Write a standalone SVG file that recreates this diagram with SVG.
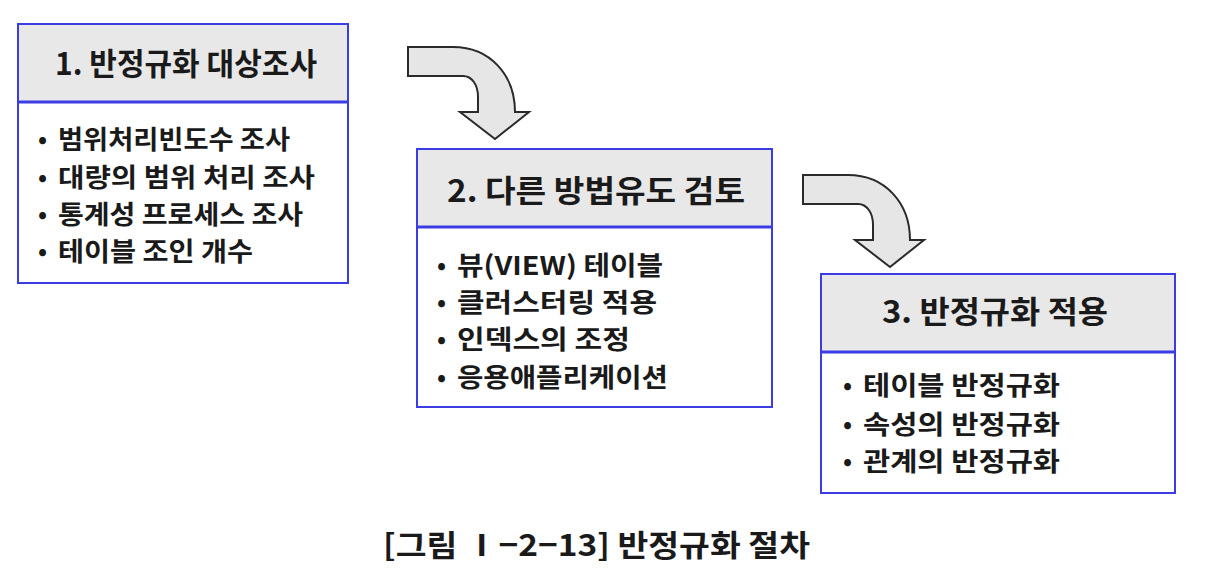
<svg xmlns="http://www.w3.org/2000/svg" width="1206" height="582" viewBox="0 0 1206 582">
<defs>
<style>
.box{fill:#fff;stroke:#3c3ce6;stroke-width:2}
.hdr{fill:#e8e8e8}
.div{stroke:#3c3ce6;stroke-width:3}
.arrow{fill:#e6e6e6;stroke:#2a2a2a;stroke-width:2;stroke-linejoin:miter}
text{font-family:"Noto Sans CJK KR","Noto Sans",sans-serif;fill:#1a1a1a;font-weight:bold}
.h{font-size:31px}
.t{font-size:26px}
.b{font-size:24px}
.cap{font-size:30px}
</style>
<path id="arw" class="arrow" d="M0,0 L45,0 C82,0 107,28 107,65 L121,65 L87,92 L52,65 L70,65 L70,50 C70,38 64,29 55,29 L0,29 Z"/>
</defs>
<rect width="1206" height="582" fill="#fff"/>

<g id="connectors">
<use href="#arw" transform="translate(408,47)"/>
<use href="#arw" transform="translate(803,175)"/>
</g>

<g id="node1">
<rect class="box" x="18" y="24" width="330" height="259"/>
<rect class="hdr" x="19" y="25" width="328" height="77"/>
<line class="div" x1="18" y1="102" x2="348" y2="102"/>
<text class="h" x="55" y="75" textLength="262" lengthAdjust="spacingAndGlyphs">1. 반정규화 대상조사</text>
<text class="b" x="38" y="148">•</text><text class="t" x="58" y="149" textLength="232" lengthAdjust="spacingAndGlyphs">범위처리빈도수 조사</text>
<text class="b" x="38" y="186">•</text><text class="t" x="58" y="187" textLength="257" lengthAdjust="spacingAndGlyphs">대량의 범위 처리 조사</text>
<text class="b" x="38" y="223">•</text><text class="t" x="58" y="224" textLength="245" lengthAdjust="spacingAndGlyphs">통계성 프로세스 조사</text>
<text class="b" x="38" y="260">•</text><text class="t" x="58" y="261" textLength="195" lengthAdjust="spacingAndGlyphs">테이블 조인 개수</text>
</g>

<g id="node2">
<rect class="box" x="417" y="149" width="355" height="258"/>
<rect class="hdr" x="418" y="150" width="353" height="77"/>
<line class="div" x1="417" y1="227" x2="772" y2="227"/>
<text class="h" x="447" y="202" textLength="298" lengthAdjust="spacingAndGlyphs">2. 다른 방법유도 검토</text>
<text class="b" x="437" y="274">•</text><text class="t" x="457" y="275" textLength="206" lengthAdjust="spacingAndGlyphs">뷰(VIEW) 테이블</text>
<text class="b" x="437" y="311">•</text><text class="t" x="457" y="312" textLength="200" lengthAdjust="spacingAndGlyphs">클러스터링 적용</text>
<text class="b" x="437" y="348">•</text><text class="t" x="457" y="349" textLength="173" lengthAdjust="spacingAndGlyphs">인덱스의 조정</text>
<text class="b" x="437" y="386">•</text><text class="t" x="457" y="387" textLength="211" lengthAdjust="spacingAndGlyphs">응용애플리케이션</text>
</g>

<g id="node3">
<rect class="box" x="821" y="274" width="354" height="219"/>
<rect class="hdr" x="822" y="275" width="352" height="77"/>
<line class="div" x1="821" y1="352" x2="1175" y2="352"/>
<text class="h" x="882" y="323" textLength="226" lengthAdjust="spacingAndGlyphs">3. 반정규화 적용</text>
<text class="b" x="843" y="394">•</text><text class="t" x="863" y="395" textLength="197" lengthAdjust="spacingAndGlyphs">테이블 반정규화</text>
<text class="b" x="843" y="433">•</text><text class="t" x="863" y="434" textLength="197" lengthAdjust="spacingAndGlyphs">속성의 반정규화</text>
<text class="b" x="843" y="470">•</text><text class="t" x="863" y="471" textLength="197" lengthAdjust="spacingAndGlyphs">관계의 반정규화</text>
</g>

<g id="caption">
<text class="cap" x="383" y="556" textLength="427" lengthAdjust="spacingAndGlyphs">[그림 Ⅰ−2−13] 반정규화 절차</text>
</g>
</svg>
